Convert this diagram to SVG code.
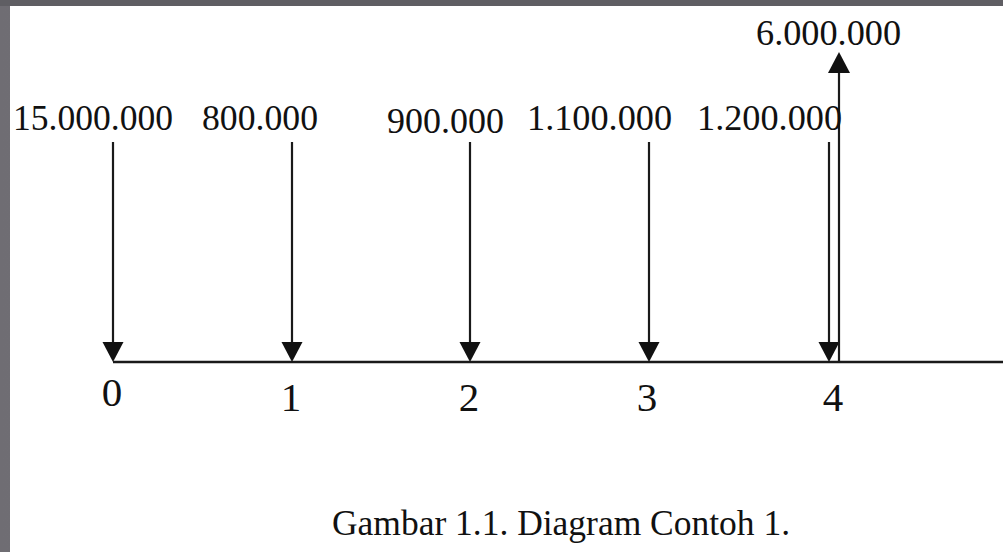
<svg xmlns="http://www.w3.org/2000/svg" width="1003" height="552" viewBox="0 0 1003 552">
<defs>
<style>
.lbl{font-family:"Liberation Serif","Times New Roman",serif;font-size:35px;fill:#111}
.ax{font-family:"Liberation Serif","Times New Roman",serif;font-size:41px;fill:#111}
.cap{font-family:"Liberation Serif","Times New Roman",serif;font-size:35px;fill:#111}
.ln{stroke:#1a1a1a;stroke-width:2.2;fill:none}
</style>
<linearGradient id="bgL" x1="0" y1="0" x2="1" y2="0">
<stop offset="0" stop-color="#6f6d73"/>
<stop offset="1" stop-color="#7e7c82"/>
</linearGradient>
</defs>
<rect x="0" y="0" width="1003" height="552" fill="url(#bgL)"/>
<rect x="0" y="0" width="1003" height="6" fill="#5f5e63"/>
<rect x="10" y="6" width="993" height="546" fill="#ffffff"/>
<g id="connectors">
<line class="ln" x1="113" y1="362" x2="1003" y2="362" style="stroke-width:2.6"/>
<line class="ln" x1="113" y1="142" x2="113" y2="345"/>
<polygon points="102.5,342 123.5,342 113,362" fill="#111"/>
<line class="ln" x1="292" y1="142" x2="292" y2="345"/>
<polygon points="281.5,342 302.5,342 292,362" fill="#111"/>
<line class="ln" x1="470" y1="142" x2="470" y2="345"/>
<polygon points="459.5,342 480.5,342 470,362" fill="#111"/>
<line class="ln" x1="649" y1="142" x2="649" y2="345"/>
<polygon points="638.5,342 659.5,342 649,362" fill="#111"/>
<line class="ln" x1="829" y1="142" x2="829" y2="345"/>
<polygon points="818.5,342 839.5,342 829,362" fill="#111"/>
<line class="ln" x1="839" y1="362" x2="839" y2="70"/>
<polygon points="828,73 850,73 839,52" fill="#111"/>
</g>
<g id="n-15000000"><text class="lbl" x="13" y="130" textLength="160" lengthAdjust="spacingAndGlyphs">15.000.000</text></g>
<g id="n-800000"><text class="lbl" x="202" y="130" textLength="116" lengthAdjust="spacingAndGlyphs">800.000</text></g>
<g id="n-900000"><text class="lbl" x="387" y="133" textLength="117" lengthAdjust="spacingAndGlyphs">900.000</text></g>
<g id="n-1100000"><text class="lbl" x="527" y="130" textLength="145" lengthAdjust="spacingAndGlyphs">1.100.000</text></g>
<g id="n-1200000"><text class="lbl" x="697" y="130" textLength="145" lengthAdjust="spacingAndGlyphs">1.200.000</text></g>
<g id="n-6000000"><text class="lbl" x="756" y="45" textLength="145" lengthAdjust="spacingAndGlyphs">6.000.000</text></g>
<g id="t0"><text class="ax" x="112" y="406" text-anchor="middle">0</text></g>
<g id="t1"><text class="ax" x="291" y="411" text-anchor="middle">1</text></g>
<g id="t2"><text class="ax" x="469" y="411" text-anchor="middle">2</text></g>
<g id="t3"><text class="ax" x="647" y="411" text-anchor="middle">3</text></g>
<g id="t4"><text class="ax" x="833" y="411" text-anchor="middle">4</text></g>
<g id="caption"><text class="cap" x="561" y="535" text-anchor="middle" textLength="458" lengthAdjust="spacingAndGlyphs">Gambar 1.1. Diagram Contoh 1.</text></g>
</svg>
